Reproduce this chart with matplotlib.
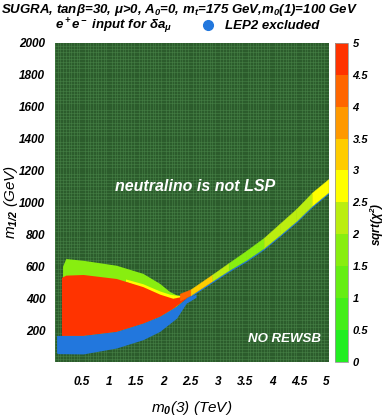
import matplotlib
matplotlib.use("Agg")
import matplotlib.pyplot as plt
import numpy as np
from matplotlib.colors import ListedColormap, BoundaryNorm
from matplotlib.cm import ScalarMappable

plt.rcParams["font.family"] = ["Liberation Sans", "DejaVu Sans"]
plt.rcParams["font.weight"] = "bold"
plt.rcParams["font.style"] = "italic"
plt.rcParams["mathtext.fontset"] = "custom"
plt.rcParams["mathtext.rm"] = "Liberation Sans:bold:italic"
plt.rcParams["mathtext.it"] = "Liberation Sans:bold:italic"
plt.rcParams["mathtext.default"] = "rm"

# colour scale for sqrt(chi^2)
levels = [0, 0.5, 1, 1.5, 2, 2.5, 3, 3.5, 4, 4.5, 5]
level_colors = ["#22ee22", "#44ee1a", "#66ee14", "#88ee10", "#bbee10",
                "#ffff00", "#ffcc00", "#ff9900", "#ff6600", "#ff3300"]

# LEP2 excluded (blue) region, m0(3) in TeV, m1/2 in GeV
blue_x = [0.03, 0.06, 0.52, 1.13, 1.62, 1.93, 2.24, 2.42, 2.60]
blue_lo = [56, 52, 50, 87, 139, 191, 274, 368, 405]
blue_hi = [166, 166, 166, 191, 243, 286, 349, 399, 425]

# allowed region with sqrt(chi2) ~ 1.5-2 (green cap)
green_x = [0.14, 0.20, 0.52, 1.13, 1.62, 1.93, 2.11, 2.24, 2.36]
green_lo = [166, 166, 166, 191, 243, 286, 320, 349, 385]
green_hi = [600, 648, 637, 606, 555, 492, 442, 420, 415]

# sqrt(chi2) ~ 2.5-3 strip between green and red
yel_x = [1.30, 1.62, 1.93, 2.11, 2.24, 2.36]
yel_lo = [505, 465, 418, 400, 395, 400]
yel_hi = [520, 490, 445, 425, 418, 415]

# sqrt(chi2) > 4.5 (red body)
red_x = [0.12, 0.20, 0.52, 1.13, 1.62, 1.93, 2.17, 2.36, 2.42]
red_lo = [166, 166, 166, 191, 243, 286, 335, 385, 400]
red_hi = [530, 544, 548, 523, 472, 425, 399, 412, 402]

# co-annihilation band along the LSP boundary
band_x = [2.30, 2.50, 2.90, 3.20, 3.53, 3.85, 4.14, 4.45, 4.74, 5.04]
band_lo = [385, 418, 508, 574, 640, 714, 795, 884, 980, 1064]
band_hi = [428, 455, 548, 620, 698, 778, 866, 960, 1062, 1146]
band_chi = [4.2, 3.2, 2.3, 1.8, 1.9, 2.1, 2.3, 2.4, 2.6, 2.8]

x_ticks = [0.5, 1, 1.5, 2, 2.5, 3, 3.5, 4, 4.5, 5]
y_ticks = [200, 400, 600, 800, 1000, 1200, 1400, 1600, 1800, 2000]

cmap = ListedColormap(level_colors)
norm = BoundaryNorm(levels, cmap.N)
blue = "#2277dd"

fig = plt.figure(figsize=(3.87, 4.16), dpi=100)
ax = fig.add_axes([0.142, 0.130, 0.708, 0.767])
cax = fig.add_axes([0.866, 0.130, 0.034, 0.767])

ax.set_facecolor("#2c5c2c")
ax.set_xlim(0, 5.05)
ax.set_ylim(0, 2000)

# fine grid texture of the background
ax.set_xticks(np.arange(0, 5.05, 0.05), minor=True)
ax.set_yticks(np.arange(0, 2000, 20), minor=True)
ax.grid(which="minor", color="#4f8c4f", linewidth=0.5, alpha=0.6)
ax.set_axisbelow(True)

ax.fill_between(green_x, green_lo, green_hi, color=cmap(norm(1.75)), lw=0, zorder=2)
ax.fill_between(yel_x, yel_lo, yel_hi, color=cmap(norm(2.75)), lw=0, zorder=2)
ax.fill_between(red_x, red_lo, red_hi, color=cmap(norm(4.75)), lw=0, zorder=3)
ax.fill_between(blue_x, blue_lo, blue_hi, color=blue, lw=0, zorder=4)

for i in range(len(band_x) - 1):
    ax.fill_between(band_x[i:i + 2], band_lo[i:i + 2], band_hi[i:i + 2],
                    color=cmap(norm(band_chi[i])), lw=0.3,
                    edgecolor=cmap(norm(band_chi[i])), zorder=3)
# thin blue edge under the band
ax.fill_between(band_x, np.array(band_lo) - 10, band_lo, color=blue, lw=0, zorder=2)

ax.text(2.59, 1100, "neutralino is not LSP", color="white", fontsize=11.5,
        ha="center", va="center", zorder=5)
ax.text(4.23, 143, "NO REWSB", color="white", fontsize=9.5,
        ha="center", va="center", zorder=5)

ax.set_xticks(x_ticks)
ax.set_xticklabels([f"{t:g}" for t in x_ticks])
ax.set_yticks(y_ticks)
ax.tick_params(which="both", length=0, labelsize=8.5)
ax.tick_params(axis="x", pad=10)
ax.tick_params(axis="y", pad=7)
for s in ax.spines.values():
    s.set_visible(False)

ax.set_xlabel("m$_0$(3) (TeV)", fontsize=11, labelpad=8)
ax.set_ylabel("m$_{1/2}$ (GeV)", fontsize=11)
ax.yaxis.set_label_coords(-0.128, 0.5)

cb = fig.colorbar(ScalarMappable(norm=norm, cmap=cmap), cax=cax, ticks=levels)
cb.ax.set_yticklabels([f"{t:g}" for t in levels])
cb.ax.tick_params(length=0, labelsize=8, pad=3)
cb.outline.set_edgecolor("#999999")
cb.outline.set_linewidth(0.6)
fig.text(0.974, 0.46, "sqrt($\\chi^2$)", fontsize=8.5, rotation=90,
         ha="center", va="center")

fig.text(0.003, 0.975, "SUGRA, tan$\\beta$=30, $\\mu$>0, A$_0$=0, m$_t$=175 GeV,m$_0$(1)=100 GeV",
         fontsize=9.5, ha="left", va="center")
fig.text(0.142, 0.937, "e$^+$e$^-$ input for $\\delta$a$_\\mu$", fontsize=9.5,
         ha="left", va="center")
fig.lines.append(plt.Line2D([0.537], [0.940], transform=fig.transFigure,
                            marker="o", markersize=7, color=blue, linestyle="none"))
fig.text(0.582, 0.937, "LEP2 excluded", fontsize=9.5, ha="left", va="center")

fig.savefig("out.png", dpi=100)
